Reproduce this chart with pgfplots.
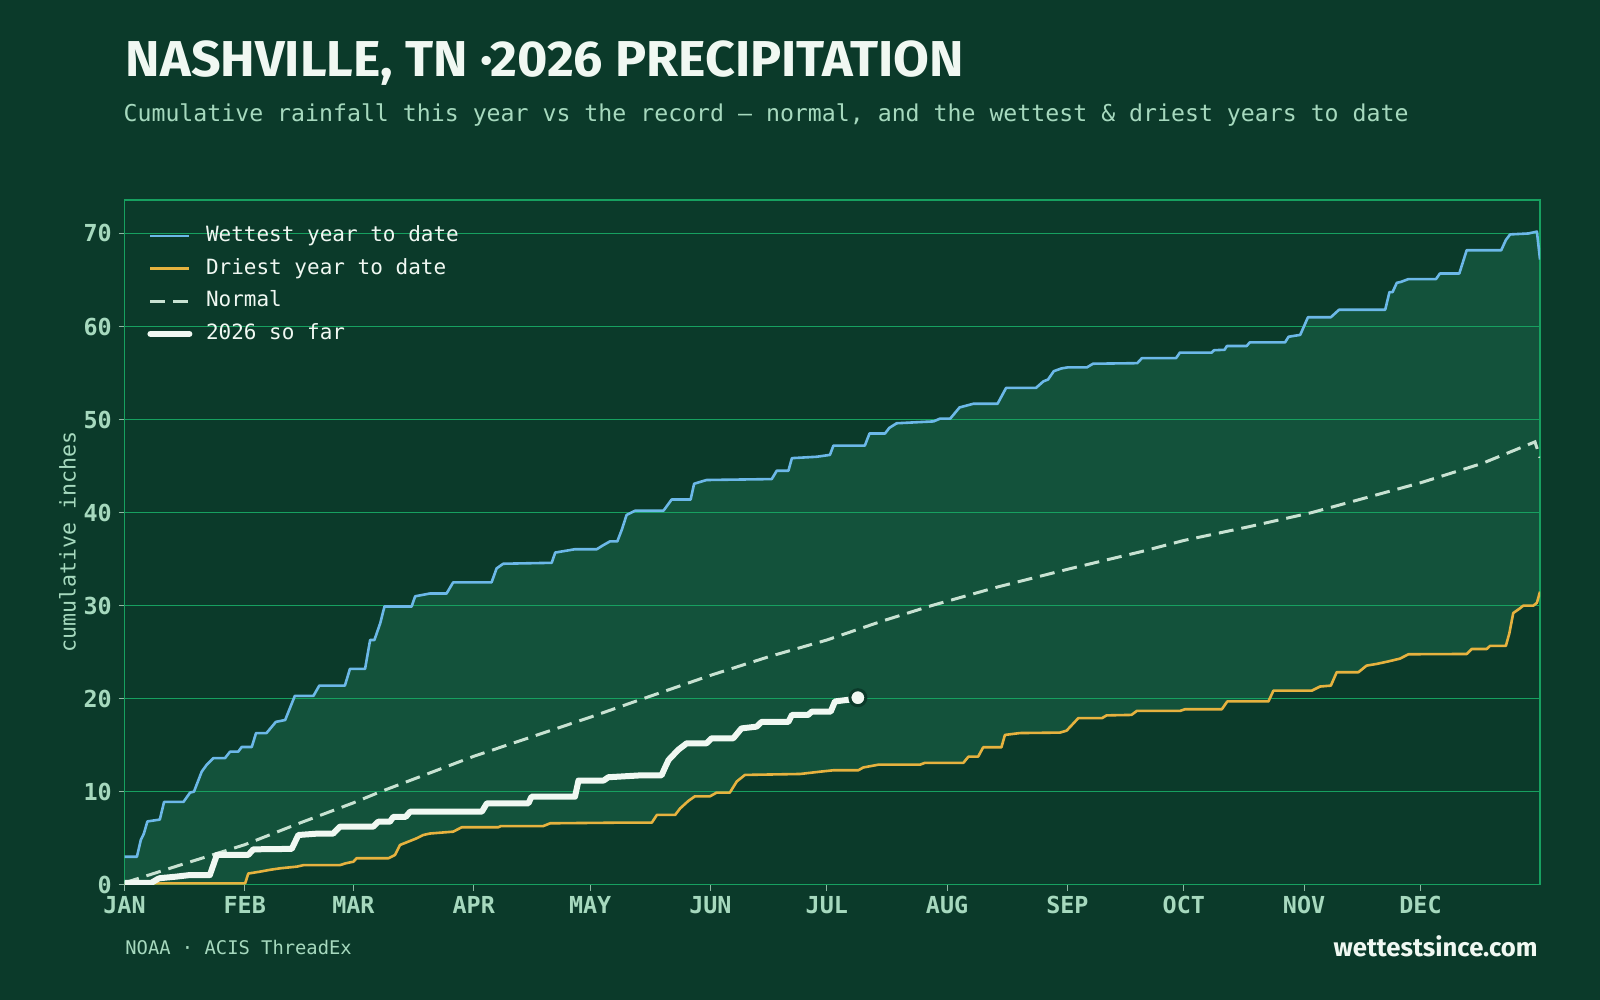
\documentclass[border=0pt]{standalone}
\usepackage{fontspec}
\usepackage{graphicx}
\usepackage{pgfplots}
\pgfplotsset{compat=1.18}
\setmainfont{DejaVu Sans Mono}
\newfontfamily\mono{DejaVu Sans Mono}
\newfontfamily\titlefont{Fira Sans}
\definecolor{bg}{HTML}{0B3A2A}
\definecolor{band}{HTML}{13523B}
\definecolor{gridc}{HTML}{17A060}
\definecolor{mint}{HTML}{A6D9BE}
\definecolor{wet}{HTML}{6CB8E8}
\definecolor{dry}{HTML}{E6B23F}
\definecolor{norm}{HTML}{C8E2D2}
\definecolor{offw}{HTML}{F0F8F2}
\definecolor{tickc}{HTML}{8FB8A4}

\pgfdeclarelayer{pagebg}
\pgfdeclarelayer{axis background}
\pgfdeclarelayer{axis grid}
\pgfdeclarelayer{axis ticks}
\pgfdeclarelayer{axis lines}
\pgfdeclarelayer{axis tick labels}
\pgfdeclarelayer{pre main}
\pgfdeclarelayer{axis descriptions}
\pgfdeclarelayer{axis foreground}
\pgfplotsset{
  layers/mylayers/.define layer set={pagebg,axis background,axis grid,axis ticks,axis lines,axis tick labels,pre main,main,axis descriptions,axis foreground}{},
}

\pgfplotstableread{
d v
0 3.0
3.2 3.0
4.2 4.8
5 5.5
5.9 6.8
9.1 7.0
10.2 8.9
15.2 8.9
16.9 9.9
17.9 10.0
19.9 12.15
21.2 12.9
22.9 13.6
25.9 13.6
27.2 14.3
29.3 14.3
30.2 14.8
32.8 14.8
33.9 16.3
36.6 16.3
39 17.5
41.4 17.7
43.9 20.3
48.7 20.3
50.2 21.4
56.8 21.4
58.1 23.2
62 23.2
63.3 26.3
64.4 26.3
65.9 28.1
67 29.9
74 29.9
74.9 31.0
78.7 31.3
83 31.3
84.7 32.5
94.6 32.5
95.9 34.0
97.6 34.5
110.1 34.6
111 35.7
116.1 36.06
121.7 36.06
123.4 36.5
125.1 36.9
127 36.9
128.2 38.2
129.4 39.75
131.6 40.2
138.9 40.2
141 41.4
145.9 41.4
146.8 43.1
150 43.5
166.8 43.6
168.1 44.5
171.1 44.5
172 45.85
178.4 46.0
181.8 46.2
182.7 47.2
190.8 47.2
192 48.5
196 48.5
197.1 49.1
199 49.6
208.5 49.8
210.2 50.1
212.8 50.1
215.2 51.3
218.8 51.7
225 51.7
227.2 53.4
234.9 53.4
236.8 54.1
238 54.3
239.5 55.2
241.5 55.5
243 55.6
248 55.6
249.6 56.0
261 56.06
262.2 56.6
271 56.6
272 57.2
280.2 57.2
280.8 57.45
283.5 57.5
284.1 57.9
289.2 57.9
290 58.3
299.1 58.3
300 58.9
303 59.1
305 61.0
310.9 61.0
313 61.8
324.9 61.8
326 63.7
326.8 63.7
327.9 64.7
329 64.8
330.9 65.1
338 65.1
339 65.7
344 65.7
345.9 68.2
354.8 68.2
356 69.3
357.1 69.9
361.8 70.0
364 70.2
364.8 67.2
}\wettest

\pgfplotstableread{
d v
0 0
8.3 0.15
31.1 0.15
31.9 1.2
34.9 1.4
37.5 1.6
40.1 1.76
44.4 1.94
46.1 2.1
55.5 2.1
57 2.3
59 2.47
59.8 2.84
68 2.84
69.7 3.19
71 4.27
73.1 4.62
75.3 4.99
77 5.34
78.7 5.5
84.7 5.7
86.9 6.17
96.3 6.17
97 6.3
107.9 6.3
109.7 6.6
127.7 6.67
135.9 6.67
137.2 7.5
141.9 7.5
143.2 8.2
145.3 9.0
147 9.5
150.9 9.5
152.6 9.9
156 9.9
157.8 11.1
159.9 11.8
174.1 11.9
179.3 12.15
182.7 12.3
189.1 12.3
190.4 12.6
194.3 12.9
205 12.9
206.3 13.1
216.2 13.1
217.5 13.77
220 13.77
221.3 14.77
226 14.77
226.9 16.1
230.8 16.3
241.1 16.35
242.8 16.56
245.8 17.9
251.9 17.9
253.1 18.2
259.5 18.25
260.9 18.68
272 18.68
273.3 18.86
282.8 18.86
284.2 19.7
294.8 19.7
296.1 20.86
306 20.86
308.1 21.3
310.9 21.4
312.4 22.84
318 22.84
320.1 23.55
322.7 23.73
325.7 24.0
328.7 24.3
330.9 24.77
345.9 24.8
347.2 25.34
351.1 25.34
351.9 25.67
356 25.67
356.9 27.03
357.9 29.2
359.6 29.7
360.5 30.0
363.1 30.0
364 30.3
364.8 31.5
}\driest

\pgfplotstableread{
d v
0 0.2
15 2.2
31 4.3
45 6.6
59 8.8
66 10.0
90 13.8
105 15.9
120 18.0
133 19.9
151 22.5
166 24.5
181 26.3
195 28.3
208 30.0
225 32.0
243 33.9
262 35.8
273 37.0
290 38.5
306 40.0
320 41.6
334 43.2
350 45.3
363.5 47.6
364.8 45.9
}\normal

\pgfplotstableread{
d v
0 0.2
6.9 0.2
8.5 0.6
9.1 0.7
13.4 0.87
16.9 1.04
22 1.04
22.8 2.0
23.8 3.2
31.9 3.2
33.2 3.8
43.1 3.85
44.8 5.34
50 5.5
53.8 5.5
55.5 6.24
64.1 6.24
65.4 6.77
68.4 6.77
69.3 7.3
72.5 7.3
73.6 7.85
92.1 7.85
93.4 8.75
104.1 8.75
104.9 9.46
116.1 9.46
117 11.2
123.5 11.2
124.7 11.55
132.9 11.75
138.4 11.75
139.2 12.5
140.2 13.4
142.7 14.5
144.9 15.2
150 15.2
151.3 15.74
156.9 15.74
159 16.8
162.9 16.99
164.2 17.5
171.1 17.5
172 18.25
176.2 18.25
177.1 18.6
182 18.6
183.1 19.7
187 19.9
189 20.1
}\thisyear

\begin{document}
\begin{tikzpicture}
\pgfsetlayers{pagebg,axis background,axis grid,axis ticks,axis lines,axis tick labels,pre main,main,axis descriptions,axis foreground}
\begin{pgfonlayer}{pagebg}
\fill[bg] (0,0) rectangle (800pt,500pt);
\end{pgfonlayer}

\node[anchor=base west, inner sep=0pt, text=offw] at (62.75pt,461.7pt)
  {\resizebox{419pt}{17.9pt}{\titlefont\bfseries NASHVILLE, TN ·2026 PRECIPITATION}};
\node[anchor=base west, inner sep=0pt, text=mint] at (61.6pt,439.3pt)
  {\mono\fontsize{11.6}{14}\selectfont Cumulative rainfall this year vs the record — normal, and the wettest \& driest years to date};

\node[anchor=base west, inner sep=0pt, text=mint] at (62.5pt,22.5pt)
  {\mono\fontsize{9.4}{11}\selectfont NOAA · ACIS ThreadEx};
\node[anchor=base east, inner sep=0pt, text=offw] at (769pt,21.5pt)
  {\resizebox{102pt}{!}{\titlefont\bfseries wettestsince.com}};

\begin{axis}[
  at={(62.25pt,57.65pt)}, anchor=south west,
  scale only axis, width=707.75pt, height=342.35pt,
  xmin=0, xmax=364.8, ymin=0, ymax=73.6,
  set layers=mylayers,
  axis line style={draw=gridc, line width=0.6pt},
  ymajorgrids,
  grid style={draw=gridc, line width=0.8pt},
  xtick={0,31,59,90,120,151,181,212,243,273,304,334},
  xticklabels={JAN,FEB,MAR,APR,MAY,JUN,JUL,AUG,SEP,OCT,NOV,DEC},
  ytick={0,10,20,30,40,50,60,70},
  xtick pos=bottom, ytick pos=left,
  tick align=outside, major tick length=3pt,
  tick style={draw=tickc, line width=0.6pt},
  /pgf/number format/assume math mode=true,
  tick label style={font=\mono\bfseries\fontsize{11.7}{12}\selectfont, text=mint},
  xticklabel style={anchor=north, inner sep=0pt, yshift=-2.7pt},
  yticklabel style={anchor=east, inner sep=0pt, xshift=-3.2pt},
  ylabel={cumulative inches},
  ylabel style={at={(rel axis cs:0,0.5)}, anchor=center, yshift=28.5pt,
    font=\mono\fontsize{10.8}{12}\selectfont, text=mint},
  legend style={at={(0,1)}, anchor=north west, xshift=11.25pt, yshift=-12.85pt,
    draw=none, fill=none, inner sep=0pt, row sep=6.3pt, column sep=6.8pt,
    font=\mono\fontsize{10.5}{12}\selectfont, text=offw,
    nodes={inner sep=0pt, text height=7.7pt, text depth=2.3pt}},
  legend cell align=left,
  legend image code/.code={\draw[#1] (0pt,0pt) -- (19.5pt,0pt);},
]
\addplot[fill=band, draw=none, on layer=axis background, forget plot] table[x=d,y=v] {\wettest} \closedcycle;
\addplot[fill=bg, draw=none, on layer=axis background, forget plot] table[x=d,y=v] {\driest} \closedcycle;

\addplot[wet, line width=1.3pt, line join=round] table[x=d,y=v] {\wettest};
\addlegendentry{Wettest year to date}
\addplot[dry, line width=1.3pt, line join=round] table[x=d,y=v] {\driest};
\addlegendentry{Driest year to date}
\addplot[norm, line width=1.5pt, dash pattern=on 7.5pt off 4pt] table[x=d,y=v] {\normal};
\addlegendentry{Normal}
\addplot[offw, line width=3pt, line join=round, line cap=round] table[x=d,y=v] {\thisyear};
\addlegendentry{2026 so far}
\addplot[only marks, mark=*, mark size=4pt, mark options={fill=offw, draw=bg, line width=1.5pt}, forget plot] coordinates {(189,20.1)};
\end{axis}
\end{tikzpicture}
\end{document}
